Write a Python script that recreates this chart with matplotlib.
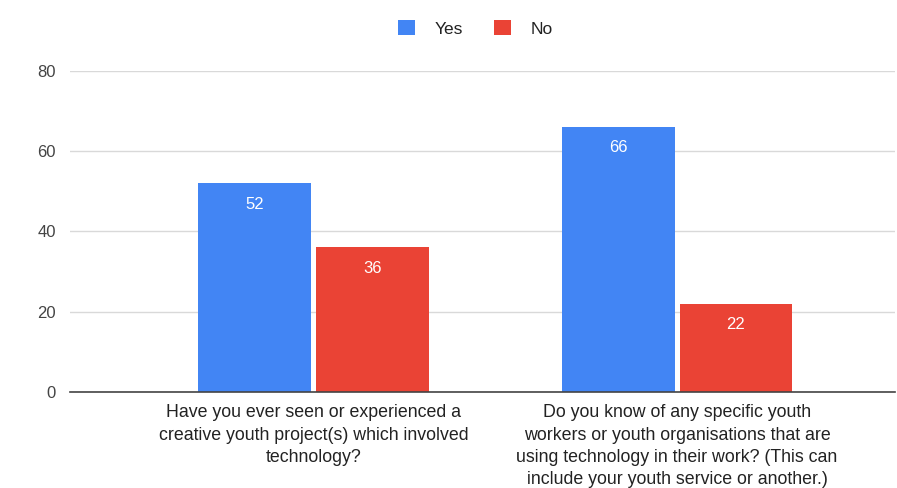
import numpy as np
import matplotlib.pyplot as plt

plt.rcParams['font.family'] = ['Liberation Sans', 'DejaVu Sans']

# survey answers per question
questions = [
    "Have you ever seen or experienced a\ncreative youth project(s) which involved\ntechnology?",
    "Do you know of any specific youth\nworkers or youth organisations that are\nusing technology in their work? (This can\ninclude your youth service or another.)",
]
yes_counts = [52, 66]
no_counts = [36, 22]
y_ticks = [0, 20, 40, 60, 80]

BLUE = '#4285F4'
RED = '#EA4335'

fig = plt.figure(figsize=(8.97, 4.88), dpi=100)
ax = fig.add_axes([0.078, 0.197, 0.92, 0.658])

x = np.arange(len(questions))
w = 0.31
gap = 0.007
bars_yes = ax.bar(x - w / 2 - gap, yes_counts, w, color=BLUE, label='Yes', zorder=3)
bars_no = ax.bar(x + w / 2 + gap, no_counts, w, color=RED, label='No', zorder=3)

# value labels inside the top of each bar
for bars in (bars_yes, bars_no):
    for b in bars:
        h = b.get_height()
        ax.annotate(f"{h:g}", (b.get_x() + b.get_width() / 2, h),
                    xytext=(0, -21), textcoords='offset pixels',
                    ha='center', va='center', color='white', fontsize=12, zorder=4)

ax.set_xlim(-0.67, 1.6)
ax.set_ylim(0, 80)
ax.set_yticks(y_ticks)
ax.set_xticks(x)
ax.set_xticklabels(questions, fontsize=12.8, color='#222222', linespacing=1.4)
ax.tick_params(axis='x', length=0, pad=9)
ax.tick_params(axis='y', length=0, pad=10, labelsize=12, labelcolor='#444444')

ax.grid(axis='y', color='#d9d9d9', linewidth=1, zorder=0)
for s in ['top', 'right', 'left']:
    ax.spines[s].set_visible(False)
ax.spines['bottom'].set_color('#444444')
ax.spines['bottom'].set_linewidth(1.2)
ax.spines['bottom'].set_zorder(5)

fig.legend(handles=[bars_yes, bars_no], labels=['Yes', 'No'], loc='center',
           bbox_to_anchor=(0.53, 0.942), ncol=2, frameon=False, fontsize=12.5,
           handlelength=1.0, handleheight=1.0, columnspacing=1.8, handletextpad=1.1,
           labelcolor='#222222')

fig.savefig('out.png', dpi=100)
